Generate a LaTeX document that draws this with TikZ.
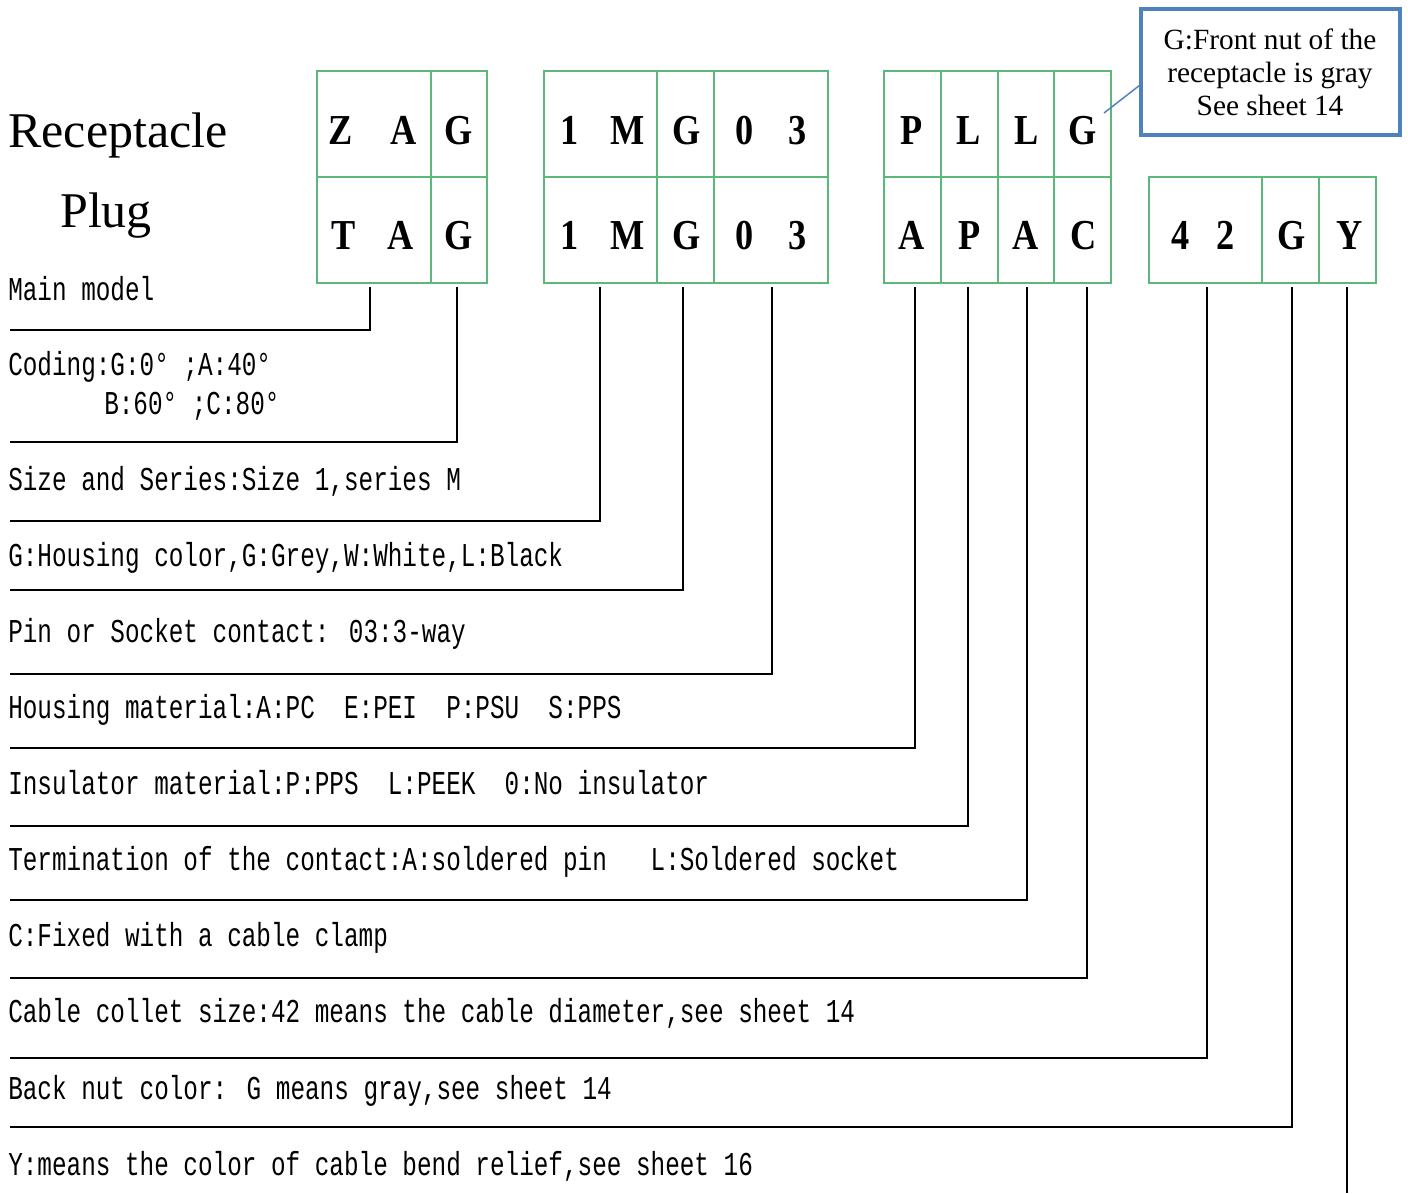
\documentclass[tikz,border=0pt]{standalone}
\usepackage{fontspec}
\setmainfont{Liberation Serif}
\newfontfamily\lblfont[FakeStretch=0.73]{Liberation Mono}
\newfontfamily\boxfont[FakeStretch=0.85]{Liberation Serif}
\usetikzlibrary{calc,fit}
\definecolor{cellgreen}{RGB}{92,184,122}
\definecolor{noteblue}{RGB}{79,129,189}
\tikzset{
  cell/.style={draw=cellgreen, line width=1.1pt, inner sep=0pt, outer sep=0pt},
  letter/.style={font=\boxfont\bfseries\fontsize{32}{32}\selectfont, anchor=base, inner sep=0pt},
  lbl/.style={font=\lblfont\fontsize{25}{30}\selectfont, anchor=base west, inner sep=0pt},
  conn/.style={draw=black, line width=1.8pt},
  title/.style={font=\fontsize{37.5}{40}\selectfont, anchor=base west, inner sep=0pt},
  notebox/.style={draw=noteblue, line width=3.2pt, inner sep=0pt, outer sep=0pt},
  notetext/.style={font=\fontsize{22}{24.75}\selectfont, align=center, anchor=base, inner sep=0pt},
  noteline/.style={draw=noteblue, line width=1.1pt},
}
\newcommand\cellbox[5]{\node[cell, fit={(#2,#3)(#4,#5)}] (#1) {};}
\begin{document}
\begin{tikzpicture}[x=0.75pt,y=-0.75pt]
\useasboundingbox (0,0) rectangle (1408,1193);

% titles
\node[title] (rec) at (8,147) {Receptacle};
\node[title] (plug) at (60,227) {Plug};

% cells group 1
\cellbox{c1t}{317}{71}{431}{177}
\cellbox{c2t}{431}{71}{487}{177}
\cellbox{c1b}{317}{177}{431}{283}
\cellbox{c2b}{431}{177}{487}{283}
% group 2
\cellbox{c3t}{544}{71}{657}{177}
\cellbox{c4t}{657}{71}{714}{177}
\cellbox{c5t}{714}{71}{828}{177}
\cellbox{c3b}{544}{177}{657}{283}
\cellbox{c4b}{657}{177}{714}{283}
\cellbox{c5b}{714}{177}{828}{283}
% group 3
\cellbox{c6t}{884}{71}{941}{177}
\cellbox{c7t}{941}{71}{998}{177}
\cellbox{c8t}{998}{71}{1054}{177}
\cellbox{c9t}{1054}{71}{1111}{177}
\cellbox{c6b}{884}{177}{941}{283}
\cellbox{c7b}{941}{177}{998}{283}
\cellbox{c8b}{998}{177}{1054}{283}
\cellbox{c9b}{1054}{177}{1111}{283}
% group 4
\cellbox{c10b}{1149}{177}{1262}{283}
\cellbox{c11b}{1262}{177}{1319}{283}
\cellbox{c12b}{1319}{177}{1376}{283}

% letters top row
\node[letter] (tZ) at (341,144) {Z};
\node[letter] (tA) at (404,144) {A};
\node[letter] (tG) at (459,144) {G};
\node[letter] (t1) at (570,144) {1};
\node[letter] (tM) at (628,144) {M};
\node[letter] (tG2) at (687,144) {G};
\node[letter] (t0) at (745,144) {0};
\node[letter] (t3) at (798,144) {3};
\node[letter] (tP) at (912,144) {P};
\node[letter] (tL) at (969,144) {L};
\node[letter] (tL2) at (1027,144) {L};
\node[letter] (tG3) at (1083,144) {G};
% letters bottom row
\node[letter] (bT) at (344,249) {T};
\node[letter] (bA) at (401,249) {A};
\node[letter] (bG) at (459,249) {G};
\node[letter] (b1) at (570,249) {1};
\node[letter] (bM) at (628,249) {M};
\node[letter] (bG2) at (687,249) {G};
\node[letter] (b0) at (745,249) {0};
\node[letter] (b3) at (798,249) {3};
\node[letter] (bA2) at (912,249) {A};
\node[letter] (bP) at (970,249) {P};
\node[letter] (bA3) at (1026,249) {A};
\node[letter] (bC) at (1084,249) {C};
\node[letter] (b4) at (1181,249) {4};
\node[letter] (b2) at (1226,249) {2};
\node[letter] (bG4) at (1292,249) {G};
\node[letter] (bY) at (1350,249) {Y};

% note box
\node[notebox, fit={(1141,9)(1400,135)}] (note) {};
\node[notetext] (notet) at (1270,115) {G:Front nut of the\\receptacle is gray\\See sheet 14};
\coordinate (gp) at (1104,113);
\draw[noteline] (gp) -- ($(note.west)+(-1,13)$);

% labels
\node[lbl] (l1) at (8,300) {Main model};
\node[lbl] (l2) at (8,375) {Coding:G:0° ;A:40°};
\node[lbl] (l2b) at (104,414) {B:60° ;C:80°};
\node[lbl] (l3) at (8,490) {Size and Series:Size 1,series M};
\node[lbl] (l4) at (8,566) {G:Housing color,G:Grey,W:White,L:Black};
\node[lbl] (l5) at (8,642) {Pin or Socket contact: 03:3-way};
\node[lbl] (l6) at (8,718) {Housing material:A:PC\ \ E:PEI\ \ P:PSU\ \ S:PPS};
\node[lbl] (l7) at (8,794) {Insulator material:P:PPS\ \ L:PEEK\ \ 0:No insulator};
\node[lbl] (l8) at (8,870) {Termination of the contact:A:soldered pin\ \ \ L:Soldered socket};
\node[lbl] (l9) at (8,946) {C:Fixed with a cable clamp};
\node[lbl] (l10) at (8,1022) {Cable collet size:42 means the cable diameter,see sheet 14};
\node[lbl] (l11) at (8,1099) {Back nut color: G means gray,see sheet 14};
\node[lbl] (l12) at (8,1175) {Y:means the color of cable bend relief,see sheet 16};

% connector ends
\coordinate (e1) at (10,330);
\coordinate (e2) at (10,442);
\coordinate (e3) at (10,521);
\coordinate (e4) at (10,590);
\coordinate (e5) at (10,674);
\coordinate (e6) at (10,748);
\coordinate (e7) at (10,826);
\coordinate (e8) at (10,900);
\coordinate (e9) at (10,978);
\coordinate (e10) at (10,1058);
\coordinate (e11) at (10,1127);
\coordinate (e12) at (1347,1193);

% connectors
\draw[conn] ($(c1b.south -| 370,0)+(0,4)$) |- (e1);
\draw[conn] ($(c2b.south -| 457,0)+(0,4)$) |- (e2);
\draw[conn] ($(c3b.south -| 600,0)+(0,4)$) |- (e3);
\draw[conn] ($(c4b.south -| 683,0)+(0,4)$) |- (e4);
\draw[conn] ($(c5b.south -| 772,0)+(0,4)$) |- (e5);
\draw[conn] ($(c6b.south -| 915,0)+(0,4)$) |- (e6);
\draw[conn] ($(c7b.south -| 968,0)+(0,4)$) |- (e7);
\draw[conn] ($(c8b.south -| 1027,0)+(0,4)$) |- (e8);
\draw[conn] ($(c9b.south -| 1087,0)+(0,4)$) |- (e9);
\draw[conn] ($(c10b.south -| 1207,0)+(0,4)$) |- (e10);
\draw[conn] ($(c11b.south -| 1292,0)+(0,4)$) |- (e11);
\draw[conn] ($(c12b.south -| 1347,0)+(0,4)$) -- (e12);
\end{tikzpicture}
\end{document}
